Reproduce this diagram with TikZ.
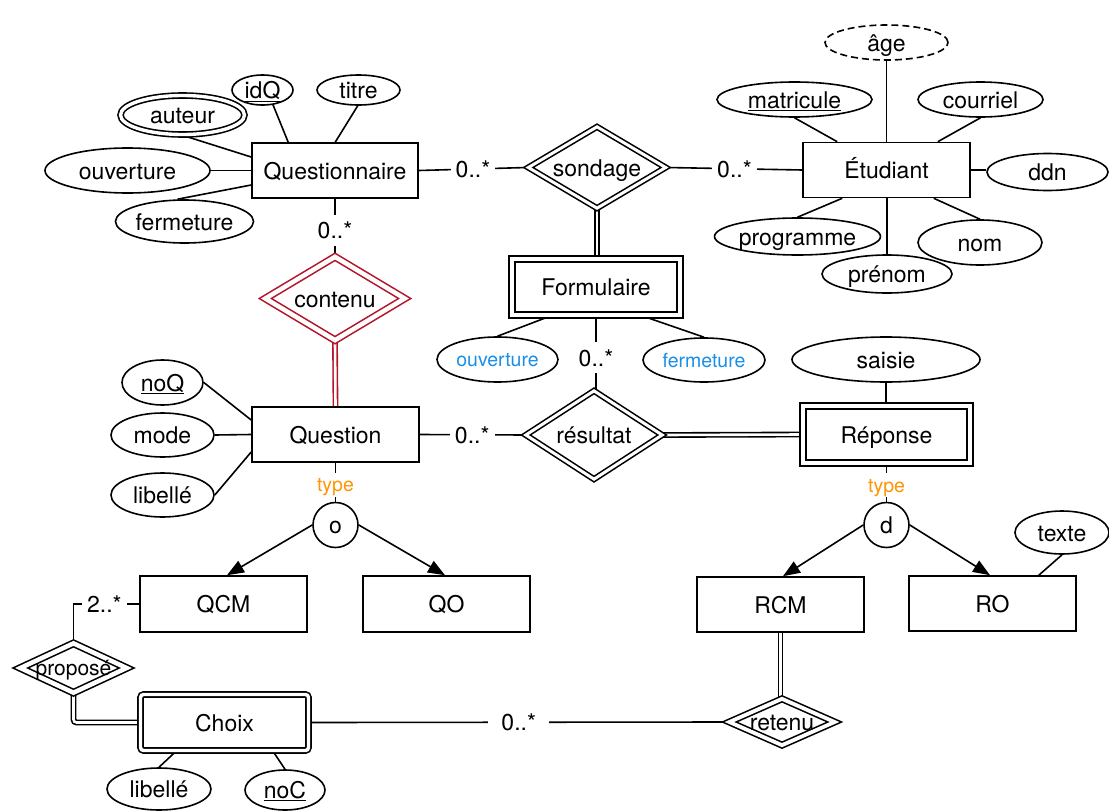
\documentclass[tikz,border=0pt]{standalone}
\usepackage{fontspec}
\setmainfont{TeX Gyre Heros}
\usetikzlibrary{shapes.geometric,arrows.meta,calc,backgrounds}
\definecolor{cblue}{RGB}{26,143,232}
\definecolor{corange}{RGB}{255,149,0}
\definecolor{cred}{RGB}{181,21,43}
\begin{document}
\begin{tikzpicture}[x=1pt,y=-1pt,line width=1.6pt,
  every node/.style={font=\fontsize{23}{27}\selectfont,text height=17pt,text depth=0pt},
  ent/.style={draw,fill=white,rectangle,minimum width=167pt,minimum height=55pt,inner sep=0pt},
  went/.style={ent,double,double distance=4.4pt},
  attr/.style={draw,fill=white,ellipse,inner sep=0pt},
  battr/.style={attr,text=cblue,font=\fontsize{19.5}{22}\selectfont,text height=14pt,text depth=0pt},
  rel/.style={draw,fill=white,diamond,inner sep=0pt,double,double distance=3pt},
  isa/.style={draw,fill=white,circle,minimum size=45pt,inner sep=0pt},
  lbl/.style={fill=white,inner xsep=5pt,inner ysep=7pt},
  typ/.style={fill=white,text=corange,inner xsep=3pt,inner ysep=5pt,font=\fontsize{19.5}{22}\selectfont,text height=14pt,text depth=0pt},
  dbl/.style={double,double distance=2.6pt,line cap=round},
  isarrow/.style={-{Triangle[length=17pt,width=13pt]}}]
\useasboundingbox (0,0) rectangle (1109,811);

% ---- Questionnaire ----
\node[ent,minimum width=166pt] (qn) at (335,170.5) {Questionnaire};
\node[attr,minimum width=61pt,minimum height=30pt] (idQ) at (262.5,90) {\underline{idQ}};
\node[attr,minimum width=83pt,minimum height=30pt] (titre) at (358.5,90) {titre};
\node[attr,double,double distance=3.4pt,minimum width=124pt,minimum height=39pt] (auteur) at (182.5,115) {auteur};
\node[attr,minimum width=165pt,minimum height=45pt] (ouvQ) at (127.5,170.5) {ouverture};
\node[attr,minimum width=137pt,minimum height=43pt] (fermQ) at (184.5,221.5) {fermeture};

% ---- sondage / Etudiant ----
\node[rel,minimum width=138pt,minimum height=82pt] (sondage) at (597,167.5) {\makebox[0pt]{sondage}};
\node[ent] (etu) at (886.5,170) {Étudiant};
\node[attr,dashed,dash pattern=on 7pt off 4pt,minimum width=123pt,minimum height=35pt] (age) at (886.5,42.5) {âge};
\node[attr,minimum width=155pt,minimum height=35pt] (matricule) at (794.5,99.5) {\underline{matricule}};
\node[attr,minimum width=125pt,minimum height=35pt] (courriel) at (980.5,99.5) {courriel};
\node[attr,minimum width=121pt,minimum height=37pt] (ddn) at (1047.5,172) {ddn};
\node[attr,minimum width=165pt,minimum height=37pt] (programme) at (797.5,236.5) {programme};
\node[attr,minimum width=124pt,minimum height=45pt] (nom) at (980,242.5) {nom};
\node[attr,minimum width=130pt,minimum height=38pt] (prenom) at (887,274) {prénom};

% ---- Formulaire ----
\node[went,minimum width=168pt,minimum height=56pt] (form) at (596,287) {Formulaire};
\node[battr,minimum width=121pt,minimum height=45pt] (ouvF) at (497.5,359.5) {ouverture};
\node[battr,minimum width=122pt,minimum height=44pt] (fermF) at (704,360) {fermeture};

% ---- contenu / Question ----
\node[rel,draw=cred,double distance=4.5pt,minimum width=140pt,minimum height=84pt] (contenu) at (335,298.5) {\makebox[0pt]{contenu}};
\node[ent] (question) at (335.5,434.5) {Question};
\node[attr,minimum width=81pt,minimum height=45pt] (noQ) at (162.5,382.5) {\underline{noQ}};
\node[attr,minimum width=103pt,minimum height=44pt] (mode) at (162.5,435) {mode};
\node[attr,minimum width=103pt,minimum height=44pt] (libQ) at (162.5,495) {libellé};

% ---- resultat / Reponse ----
\node[rel,minimum width=137pt,minimum height=89pt] (resultat) at (594,435) {\makebox[0pt]{résultat}};
\node[went,minimum height=57pt] (reponse) at (886.5,434.5) {Réponse};
\node[attr,minimum width=188pt,minimum height=45pt] (saisie) at (886,359.5) {saisie};

% ---- specialisations ----
\node[isa] (o) at (335.5,525) {o};
\node[isa] (d) at (886.5,525) {d};
\node[ent,minimum height=56pt] (qcm) at (223.5,604) {QCM};
\node[ent,minimum height=56pt] (qo) at (446.5,604) {QO};
\node[ent] (rcm) at (780.5,604.5) {RCM};
\node[ent] (ro) at (992.5,603.5) {RO};
\node[attr,minimum width=94pt,minimum height=43pt] (texte) at (1062,532.5) {texte};

% ---- Choix ----
\node[rel,double distance=4.5pt,minimum width=107pt,minimum height=50pt,font=\fontsize{21}{24}\selectfont,text height=15.5pt] (propose) at (73.5,668) {\makebox[0pt]{proposé}};
\node[went,double distance=3.4pt,rounded corners=3pt,minimum width=168pt,minimum height=56pt] (choix) at (224.5,722.5) {Choix};
\node[attr,minimum width=104pt,minimum height=42pt] (libC) at (159,789) {libellé};
\node[attr,minimum width=80pt,minimum height=40pt] (noC) at (285,790) {\underline{noC}};
\node[rel,double distance=3.8pt,minimum width=106pt,minimum height=47pt] (retenu) at (782,722) {\makebox[0pt]{retenu}};

\begin{pgfonlayer}{background}
\begin{scope}[line width=1.6pt]
% Questionnaire attributes
\draw ($(idQ)+(4.5,0)$) -- ($(qn.north west)+(37,0)$);
\draw ($(titre)+(9,0)$) -- ($(qn.north west)+(84,0)$);
\draw (auteur.south) -- ($(qn.west)+(0,-13.5)$);
\draw (ouvQ.east) -- (qn.west);
\draw ($(fermQ.north)+(-7,0)$) -- ($(qn.west)+(0,14.5)$);
% sondage
\draw (qn.east) -- node[lbl]{0..*} (sondage.west);
\draw (sondage.east) -- node[lbl]{0..*} (etu.west);
\draw[dbl] (sondage.south) -- (sondage.south |- form.north);
% Etudiant attributes
\draw (age.south) -- (age.south |- etu.north);
\draw (matricule.south) -- ($(etu.north west)+(35,0)$);
\draw (courriel.south) -- ($(etu.north east)+(-33,0)$);
\draw (etu.east) -- (etu.east -| ddn.west);
\draw (programme.north) -- ($(etu.south west)+(40,0)$);
\draw (nom.north) -- ($(etu.south east)+(-37,0)$);
\draw (prenom.north) -- (prenom.north |- etu.south);
% Formulaire
\draw (ouvF.north) -- ($(form.south)+(-45,0)$);
\draw (fermF.north) -- ($(form.south)+(46,0)$);
\draw (form.south) -- node[lbl,pos=0.57]{0..*} (form.south |- resultat.north);
% contenu
\draw (qn.south) -- node[lbl,pos=0.55]{0..*} (contenu.north);
\draw[dbl,draw=cred] (contenu.south) -- (question.north);
% Question
\draw (noQ.east) -- ($(question.west)+(0,-14.5)$);
\draw (mode.east) -- (question.west);
\draw (libQ.east) -- ($(question.west)+(0,17.5)$);
\draw (question.east) -- node[lbl]{0..*} (resultat.west);
\draw[dbl] (resultat.east) -- (reponse.west);
\draw (saisie.south) -- (saisie.south |- reponse.north);
% specialisations
\draw (question.south) -- node[typ,pos=0.57]{type} (o.north);
\draw (reponse.south) -- node[typ,pos=0.56]{type} (d.north);
\draw[isarrow] (o.west) -- ($(qcm.north)+(3.5,0)$);
\draw[isarrow] (o.east) -- ($(qo.north)+(-1.5,0)$);
\draw[isarrow] (d.west) -- ($(rcm.north)+(2.5,0)$);
\draw[isarrow] (d.east) -- ($(ro.north)+(-2.5,0)$);
\draw (texte.south) -- ($(ro.north east)+(-38,0)$);
% Choix
\draw (qcm.west) -- node[lbl,pos=0.53]{2..*} (propose.north |- qcm.west) -- (propose.north);
\draw[dbl,rounded corners=3pt] (propose.south) -- (propose.south |- choix.west) -- (choix.west);
\draw (libC.north) -- ($(choix.south)+(-48.5,0)$);
\draw (noC.north) -- ($(choix.south)+(48.5,0)$);
\draw (choix.east) -- node[lbl,inner xsep=13pt]{0..*} (retenu.west);
\draw[dbl] (rcm.south) -- (rcm.south |- retenu.north);
\end{scope}
\end{pgfonlayer}
\end{tikzpicture}
\end{document}
